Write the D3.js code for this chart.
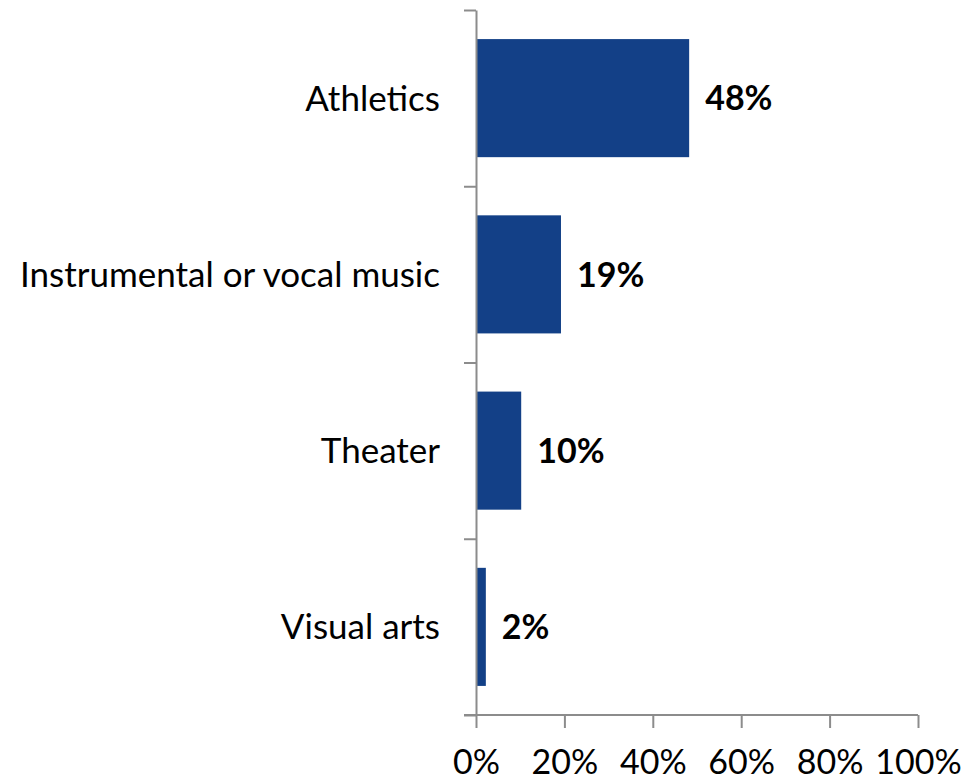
<!DOCTYPE html>
<html>
<head>
<meta charset="utf-8">
<script src="https://cdn.jsdelivr.net/npm/d3@7"></script>
<style>
  body { margin: 0; background: #fff; }
  text { font-family: Lato, "Open Sans", sans-serif; fill: #000; }
</style>
</head>
<body>
<svg id="chart" width="978" height="781"></svg>
<script>
var categories = ['Athletics', 'Instrumental or vocal music', 'Theater', 'Visual arts']
var values = [48, 19, 10, 2]
var xTicks = [0, 20, 40, 60, 80, 100]

var svg = d3.select('#chart')
var axisColor = '#8c8c8c'
var barColor = '#134087'

var plotTop = 10, plotBottom = 715, plotLeft = 476, plotRight = 918

var x = d3.scaleLinear().domain([0, 100]).range([plotLeft, plotRight])
var y = d3.scaleBand()
          .domain(categories)
          .range([plotTop, plotBottom])
          .paddingInner(0.33)
          .paddingOuter(0.165)
var yEdge = d3.scaleLinear().domain([0, categories.length]).range([plotTop, plotBottom])

// bars
svg.append('g')
   .selectAll('rect')
   .data(values)
   .enter()
   .append('rect')
   .attr('x', x(0) + 1)
   .attr('y', (d, i) => y(categories[i]))
   .attr('width', d => x(d) - x(0))
   .attr('height', y.bandwidth())
   .attr('fill', barColor)

// value labels
svg.append('g')
   .selectAll('text')
   .data(values)
   .enter()
   .append('text')
   .attr('x', d => x(d) + 17)
   .attr('y', (d, i) => y(categories[i]) + y.bandwidth() / 2)
   .attr('dy', '0.36em')
   .attr('font-size', 34)
   .attr('font-weight', 'bold')
   .text(d => d + '%')

// y axis: ticks at category boundaries
var yAxis = svg.append('g')
   .attr('transform', 'translate(' + plotLeft + ',0)')
   .call(d3.axisLeft(yEdge).tickValues(d3.range(categories.length + 1)).tickSize(12).tickSizeOuter(0).tickFormat(''))
yAxis.select('.domain').attr('stroke', axisColor).attr('stroke-width', 2)
yAxis.selectAll('.tick line').attr('stroke', axisColor).attr('stroke-width', 2)

// category labels
svg.append('g')
   .selectAll('text')
   .data(categories)
   .enter()
   .append('text')
   .attr('x', plotLeft - 36)
   .attr('y', d => y(d) + y.bandwidth() / 2)
   .attr('dy', '0.36em')
   .attr('text-anchor', 'end')
   .attr('font-size', 35)
   .text(d => d)

// x axis
var xAxis = svg.append('g')
   .attr('transform', 'translate(0,' + plotBottom + ')')
   .call(d3.axisBottom(x).tickValues(xTicks).tickSize(13).tickSizeOuter(0).tickPadding(22).tickFormat(d => d + '%'))
xAxis.select('.domain').remove()
xAxis.append('line')
     .attr('x1', plotLeft - 12).attr('x2', plotRight)
     .attr('y1', 0).attr('y2', 0)
     .attr('stroke', axisColor).attr('stroke-width', 2)
xAxis.selectAll('.tick line').attr('stroke', axisColor).attr('stroke-width', 2)
xAxis.selectAll('.tick text').attr('font-size', 34).attr('fill', '#000')
</script>
</body>
</html>
